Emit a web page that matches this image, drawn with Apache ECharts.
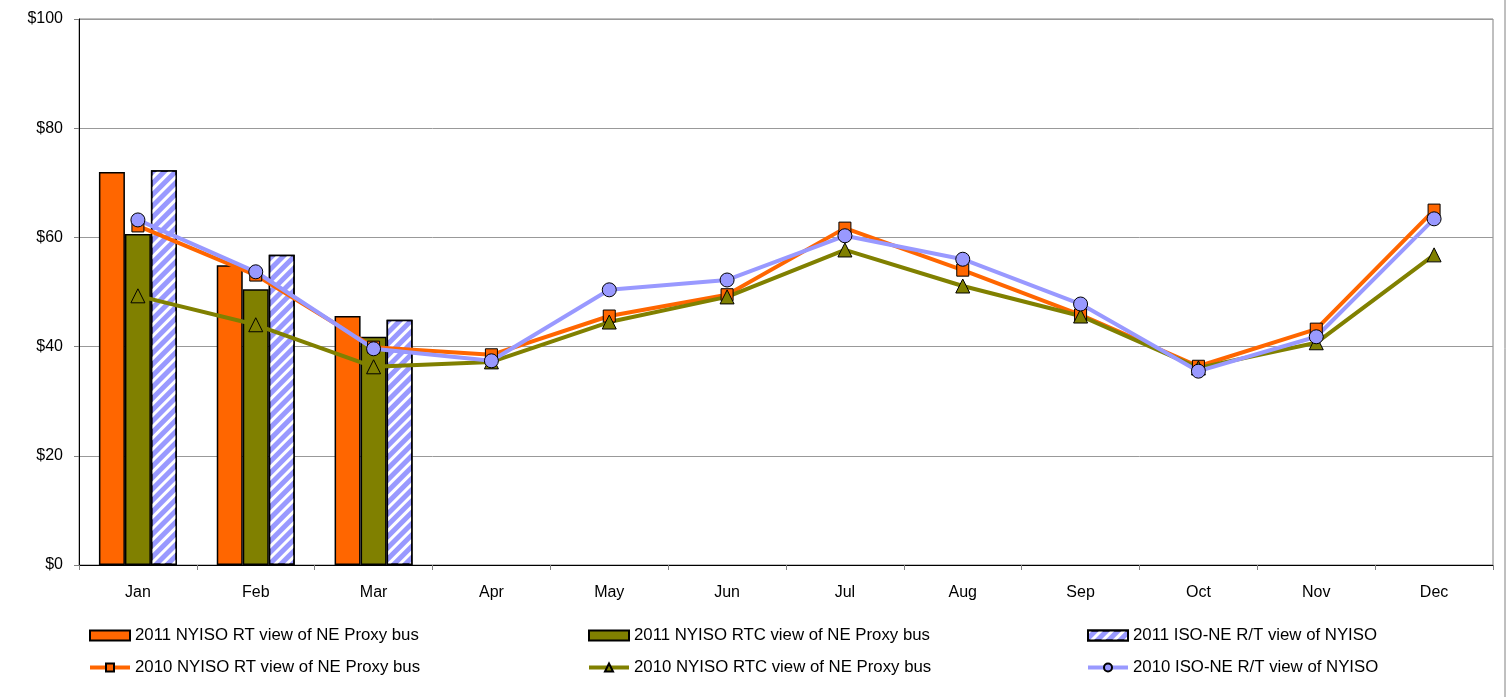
<!DOCTYPE html>
<html>
<head>
<meta charset="utf-8">
<script src="https://cdn.jsdelivr.net/npm/echarts@6/dist/echarts.min.js"></script>
<style>
html,body{margin:0;padding:0;background:#fff;}
#main{width:1512px;height:697px;}
</style>
</head>
<body>
<div id="main"></div>
<script>
// 月份
var months = ['Jan','Feb','Mar','Apr','May','Jun','Jul','Aug','Sep','Oct','Nov','Dec'];
var yTicks = [0, 20, 40, 60, 80, 100];
// 2011 柱状
var rt2011 = [72.0, 54.9, 45.6];
var rtc2011 = [60.6, 50.5, 41.8];
var iso2011 = [72.3, 56.8, 44.9];
// 2010 折线
var rt2010 = [62.1, 53.1, 39.9, 38.5, 45.6, 49.5, 61.7, 54.0, 45.8, 36.4, 43.2, 65.0];
var rtc2010 = [49.3, 44.0, 36.3, 37.2, 44.5, 49.1, 57.7, 51.1, 45.6, 36.1, 40.7, 56.8];
var iso2010 = [63.2, 53.7, 39.6, 37.4, 50.4, 52.2, 60.3, 56.0, 47.8, 35.5, 41.8, 63.4];

var names = [
	'2011 NYISO RT view of NE Proxy bus',
	'2011 NYISO RTC view of NE Proxy bus',
	'2011 ISO-NE R/T view of NYISO',
	'2010 NYISO RT view of NE Proxy bus',
	'2010 NYISO RTC view of NE Proxy bus',
	'2010 ISO-NE R/T view of NYISO'
];
var font = 'Liberation Sans, Arial, sans-serif';

function legendCol(left, items){
	return {
		orient: 'vertical',
		left: left,
		top: 622,
		itemWidth: 40,
		itemHeight: 10,
		itemGap: 15,
		textStyle: {fontFamily: font, fontSize: 16.8, color: '#000'},
		data: items
	};
}
function lineItem(name){
	return {name: name, lineStyle: {width: 4}};
}

var chart = echarts.init(document.getElementById('main'));
var option = {
	animation: false,
	backgroundColor: '#fff',
	grid: {
		left: 79, right: 19, top: 19, bottom: 132,
		show: true, borderColor: '#808080', borderWidth: 1
	},
	legend: [
		legendCol(83, [{name: names[0], icon: 'rect'}, lineItem(names[3])]),
		legendCol(582, [{name: names[1], icon: 'rect'}, lineItem(names[4])]),
		legendCol(1081, [{name: names[2], icon: 'rect'}, lineItem(names[5])])
	],
	graphic: [{
		type: 'line',
		shape: {x1: 1505, y1: 0, x2: 1505, y2: 697},
		style: {stroke: '#808080', lineWidth: 1}
	}],
	xAxis: {
		type: 'category',
		data: months,
		axisLine: {lineStyle: {color: '#000', width: 1}},
		axisTick: {show: true, length: 5, lineStyle: {color: '#808080'}},
		axisLabel: {fontFamily: font, fontSize: 16, color: '#000', margin: 20}
	},
	yAxis: {
		type: 'value',
		min: yTicks[0],
		max: yTicks[yTicks.length - 1],
		interval: 20,
		axisLine: {show: true, lineStyle: {color: '#000', width: 1}},
		axisTick: {show: true, length: 5, lineStyle: {color: '#808080'}},
		axisLabel: {fontFamily: font, fontSize: 16, color: '#000', margin: 16,
			formatter: function(v){ return '$' + v; }},
		splitLine: {lineStyle: {color: '#999', width: 1}}
	},
	series: [
		{
			name: names[0], type: 'bar', data: rt2011,
			barWidth: 26, barGap: '0%',
			itemStyle: {color: '#FF6600', borderColor: '#000', borderWidth: 1.5}
		},
		{
			name: names[1], type: 'bar', data: rtc2011,
			barWidth: 26, barGap: '0%',
			itemStyle: {color: '#808000', borderColor: '#000', borderWidth: 1.5}
		},
		{
			name: names[2], type: 'bar', data: iso2011,
			barWidth: 26, barGap: '0%',
			itemStyle: {
				color: '#9999FF', borderColor: '#000', borderWidth: 1.5,
				decal: {
					symbol: 'rect', color: '#ffffff',
					dashArrayX: [1, 0], dashArrayY: [3, 5],
					rotation: -Math.PI / 4, symbolSize: 1
				}
			}
		},
		{
			name: names[3], type: 'line', data: rt2010,
			symbol: 'rect', symbolSize: 12,
			lineStyle: {color: '#FF6600', width: 4},
			itemStyle: {color: '#FF6600', borderColor: '#000', borderWidth: 1}
		},
		{
			name: names[4], type: 'line', data: rtc2010,
			symbol: 'triangle', symbolSize: 14,
			lineStyle: {color: '#808000', width: 4},
			itemStyle: {color: '#808000', borderColor: '#000', borderWidth: 1}
		},
		{
			name: names[5], type: 'line', data: iso2010,
			symbol: 'circle', symbolSize: 14,
			lineStyle: {color: '#9999FF', width: 4},
			itemStyle: {color: '#9999FF', borderColor: '#000', borderWidth: 1}
		}
	]
};
chart.setOption(option);
</script>
</body>
</html>
